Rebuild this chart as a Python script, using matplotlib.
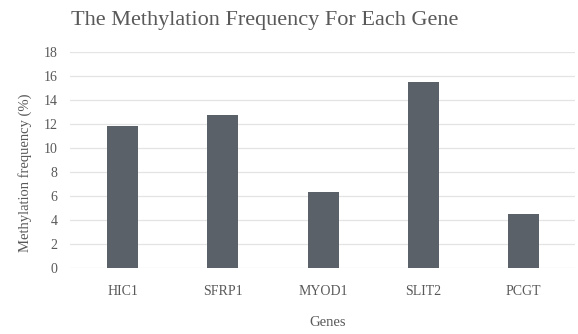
import matplotlib
matplotlib.use('Agg')
import matplotlib.pyplot as plt

# data
genes = ['HIC1', 'SFRP1', 'MYOD1', 'SLIT2', 'PCGT']
freq = [11.8, 12.75, 6.35, 15.5, 4.5]
yticks = [0, 2, 4, 6, 8, 10, 12, 14, 16, 18]

plt.rcParams['font.family'] = ['Liberation Serif']
txt = '#595959'

fig = plt.figure(figsize=(5.78, 3.34), dpi=100)
ax = fig.add_axes([0.121, 0.198, 0.874, 0.647])

x = range(len(genes))
ax.bar(x, freq, width=0.31, color='#5b6168', zorder=3)

ax.set_xlim(-0.53, 4.52)
ax.set_ylim(0, 18)
ax.set_yticks(yticks)
ax.set_xticks(list(x))
ax.set_xticklabels(genes)
ax.tick_params(axis='both', length=0, colors=txt, labelsize=10)
ax.tick_params(axis='x', pad=12)
ax.tick_params(axis='y', pad=9)
ax.grid(axis='y', color='#e4e4e4', linewidth=0.9, zorder=0)
for s in ax.spines.values():
    s.set_visible(False)

fig.text(328 / 578, 1 - 322 / 334, 'Genes', ha='center', va='center',
         color=txt, fontsize=10.5)
ax.set_ylabel('Methylation frequency (%)', color=txt, fontsize=10.5)
ax.yaxis.set_label_coords(-0.075, 0.44)
fig.text(265 / 578, 0.94, 'The Methylation Frequency For Each Gene', ha='center',
         va='center', color=txt, fontsize=16)

fig.savefig('out.png', dpi=100)
